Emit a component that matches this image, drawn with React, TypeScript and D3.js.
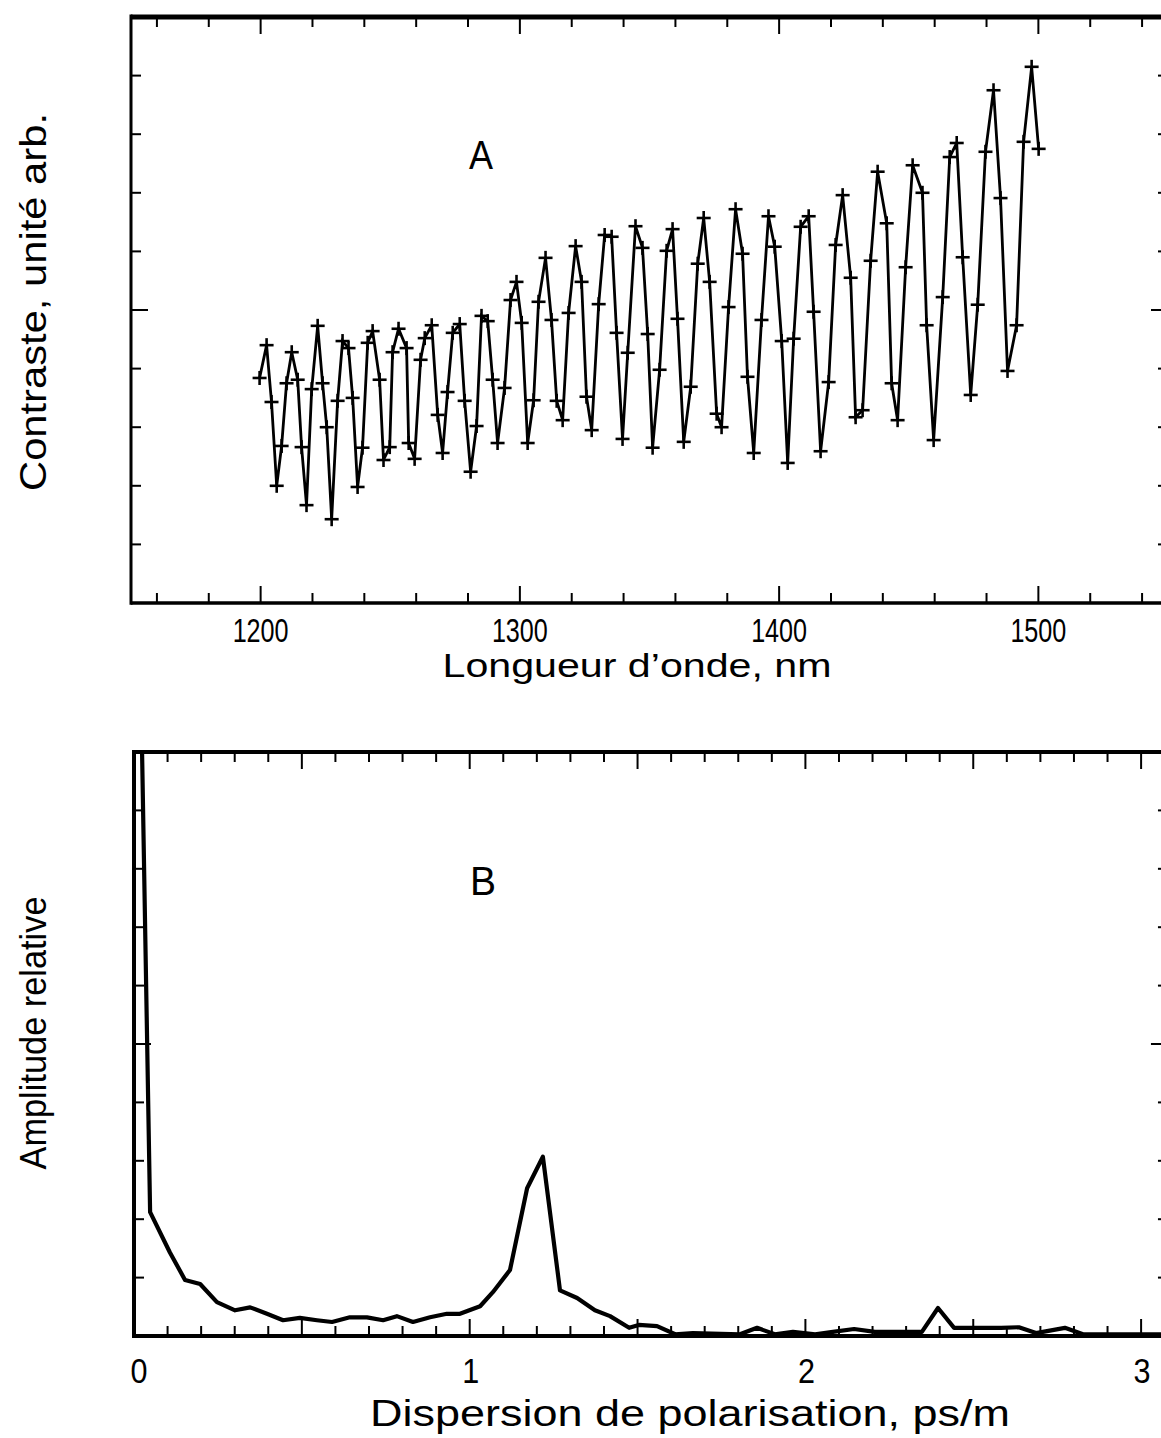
import React from "react";
import * as d3 from "d3";

// ---------- Panel A data (wavelength nm, contrast arb. units) ----------
const WAVELENGTH = [
  1199.6, 1202.3, 1204.2, 1206.2, 1208.1, 1210.0, 1212.0, 1214.3, 1215.8, 1217.7,
  1219.7, 1222.0, 1223.9, 1225.5, 1227.4, 1229.7, 1231.6, 1233.9, 1235.5, 1237.4,
  1239.3, 1241.3, 1243.2, 1245.9, 1247.4, 1249.8, 1250.9, 1253.2, 1256.3, 1257.1,
  1259.4, 1261.7, 1263.3, 1266.0, 1268.3, 1270.2, 1272.1, 1274.1, 1276.8, 1278.7,
  1281.0, 1283.3, 1285.2, 1287.6, 1289.5, 1291.4, 1294.1, 1296.4, 1298.7, 1300.7,
  1303.0, 1305.3, 1307.2, 1309.9, 1312.2, 1314.2, 1316.5, 1318.8, 1321.5, 1323.8,
  1325.7, 1327.7, 1330.4, 1332.7, 1335.4, 1337.3, 1339.6, 1341.6, 1344.6, 1347.3,
  1349.3, 1351.2, 1353.9, 1356.6, 1358.9, 1360.8, 1363.2, 1365.9, 1368.6, 1370.9,
  1373.2, 1375.9, 1377.8, 1380.5, 1383.2, 1385.9, 1387.8, 1390.2, 1393.2, 1395.9,
  1398.3, 1401.0, 1403.3, 1405.6, 1408.3, 1411.4, 1413.3, 1416.0, 1419.1, 1421.8,
  1424.5, 1427.6, 1429.5, 1432.2, 1435.3, 1438.0, 1441.5, 1443.4, 1445.7, 1448.8,
  1451.5, 1455.3, 1456.9, 1459.6, 1463.1, 1465.8, 1468.5, 1470.8, 1473.9, 1476.6,
  1479.6, 1482.7, 1485.4, 1488.1, 1491.6, 1494.3, 1497.4, 1500.1,
];
const CONTRAST = [
  3.84, 4.40, 3.43, 2.00, 2.68, 3.75, 4.28, 3.81, 2.66, 1.67,
  3.65, 4.73, 3.75, 3.00, 1.43, 3.45, 4.47, 4.35, 3.50, 1.98,
  2.65, 4.44, 4.64, 3.81, 2.44, 2.66, 4.28, 4.68, 4.35, 2.73,
  2.46, 4.15, 4.52, 4.74, 3.21, 2.56, 3.60, 4.61, 4.76, 3.45,
  2.24, 3.02, 4.90, 4.81, 3.81, 2.73, 3.67, 5.17, 5.48, 4.78,
  2.73, 3.46, 5.14, 5.89, 4.83, 3.45, 3.12, 4.95, 6.09, 5.48,
  3.52, 2.95, 5.10, 6.28, 6.25, 4.61, 2.80, 4.27, 6.43, 6.06,
  4.59, 2.65, 3.98, 6.01, 6.38, 4.85, 2.75, 3.69, 5.79, 6.57,
  5.48, 3.23, 3.00, 5.05, 6.72, 5.96, 3.86, 2.56, 4.83, 6.60,
  6.08, 4.47, 2.39, 4.51, 6.42, 6.60, 4.97, 2.59, 3.77, 6.11,
  6.96, 5.55, 3.17, 3.29, 5.84, 7.36, 6.48, 3.75, 3.12, 5.73,
  7.47, 7.00, 4.74, 2.78, 5.22, 7.61, 7.85, 5.90, 3.55, 5.09,
  7.70, 8.75, 6.91, 3.96, 4.74, 7.87, 9.15, 7.75,
];

// ---------- Panel B data (PMD ps/m, relative amplitude) ----------
const DISPERSION = [
  0.0, 0.048, 0.107, 0.152, 0.197, 0.247, 0.301, 0.346, 0.396, 0.444,
  0.494, 0.545, 0.590, 0.643, 0.694, 0.742, 0.783, 0.831, 0.882, 0.932,
  0.971, 1.031, 1.069, 1.120, 1.171, 1.218, 1.269, 1.320, 1.373, 1.418,
  1.475, 1.504, 1.558, 1.612, 1.665, 1.805, 1.856, 1.909, 1.963, 2.029,
  2.082, 2.145, 2.207, 2.347, 2.395, 2.443, 2.508, 2.583, 2.636, 2.687,
  2.773, 2.827, 2.901, 3.06,
];
const AMPLITUDE = [
  17.9, 2.12, 1.43, 0.96, 0.89, 0.58, 0.44, 0.49, 0.38, 0.27,
  0.31, 0.27, 0.24, 0.32, 0.32, 0.27, 0.34, 0.24, 0.32, 0.38,
  0.38, 0.51, 0.75, 1.13, 2.53, 3.07, 0.78, 0.65, 0.44, 0.34,
  0.14, 0.19, 0.17, 0.03, 0.05, 0.03, 0.14, 0.03, 0.07, 0.03,
  0.07, 0.12, 0.07, 0.07, 0.48, 0.14, 0.14, 0.14, 0.15, 0.05,
  0.14, 0.03, 0.03, 0.03,
];

const TICKS_A_LABELS = [1200, 1300, 1400, 1500];
const TICKS_B_LABELS = [0, 1, 2, 3];

const FONT = "'Liberation Sans', Arial, sans-serif";

type Tick = { v: number; major: boolean };

function Frame({
  x, y, xTicks, yTicks, thick,
}: {
  x: d3.ScaleLinear<number, number>;
  y: d3.ScaleLinear<number, number>;
  xTicks: Tick[];
  yTicks: Tick[];
  thick: { left: number; top: number; bottom: number; right: number };
}) {
  const [x0, x1] = x.range();
  const [y0, y1] = y.range(); // y0 bottom, y1 top
  const MAJ = 17, MIN = 10;
  return (
    <g stroke="#000" fill="none">
      <line x1={x0} x2={x1} y1={y1} y2={y1} strokeWidth={thick.top} />
      <line x1={x0} x2={x1} y1={y0} y2={y0} strokeWidth={thick.bottom} />
      <line x1={x0} x2={x0} y1={y1 - thick.top / 2} y2={y0 + thick.bottom / 2} strokeWidth={thick.left} />
      <line x1={x1} x2={x1} y1={y1} y2={y0} strokeWidth={thick.right} />
      {xTicks.map((t, i) => (
        <g key={"xt" + i} strokeWidth={2}>
          <line x1={x(t.v)} x2={x(t.v)} y1={y0} y2={y0 - (t.major ? MAJ : MIN)} />
          <line x1={x(t.v)} x2={x(t.v)} y1={y1} y2={y1 + (t.major ? MAJ : MIN)} />
        </g>
      ))}
      {yTicks.map((t, i) => (
        <g key={"yt" + i} strokeWidth={2}>
          <line x1={x0} x2={x0 + (t.major ? MAJ : MIN)} y1={y(t.v)} y2={y(t.v)} />
          <line x1={x1} x2={x1 - (t.major ? MAJ : MIN)} y1={y(t.v)} y2={y(t.v)} />
        </g>
      ))}
    </g>
  );
}

export default function App() {
  // Panel A
  const xA = d3.scaleLinear().domain([1150, 1550]).range([131, 1168]);
  const yA = d3.scaleLinear().domain([0, 10]).range([603, 17]);
  const xTicksA: Tick[] = d3.range(1160, 1550, 20).map((v) => ({ v, major: v % 100 === 0 }));
  const yTicksA: Tick[] = d3.range(1, 10).map((v) => ({ v, major: v === 5 }));
  const ptsA = WAVELENGTH.map((w, i) => [w, CONTRAST[i]] as [number, number]);
  const lineA = d3.line<[number, number]>().x((d) => xA(d[0])).y((d) => yA(d[1]))(ptsA) || "";

  // Panel B
  const xB = d3.scaleLinear().domain([0, 3.08]).range([134, 134 + 3.08 * 335.7]);
  const yB = d3.scaleLinear().domain([0, 10]).range([1336, 752]);
  const xTicksB: Tick[] = d3.range(1, 31).map((k) => ({ v: k / 10, major: k % 5 === 0 }));
  const yTicksB: Tick[] = d3.range(1, 10).map((v) => ({ v, major: v === 5 }));
  const ptsB = DISPERSION.map((d, i) => [d, AMPLITUDE[i]] as [number, number]);
  const lineB = d3.line<[number, number]>().x((d) => xB(d[0])).y((d) => yB(d[1]))(ptsB) || "";

  return (
    <svg
      width={1161}
      height={1438}
      style={{ position: "absolute", left: 0, top: 0, background: "#fff" }}
      fontFamily={FONT}
    >
      <rect width={1161} height={1438} fill="#fff" />
      <defs>
        <clipPath id="clipA">
          <rect x={131} y={17} width={1168 - 131} height={603 - 17} />
        </clipPath>
        <clipPath id="clipB">
          <rect x={134} y={752} width={1100} height={1336 - 752} />
        </clipPath>
      </defs>

      {/* Panel A */}
      <g clipPath="url(#clipA)">
        <path d={lineA} fill="none" stroke="#000" strokeWidth={2.8} strokeLinejoin="miter" />
        {ptsA.map((p, i) => {
          const cx = xA(p[0]);
          const cy = yA(p[1]);
          return (
            <g key={i} stroke="#000" strokeWidth={2.6}>
              <line x1={cx - 7} x2={cx + 7} y1={cy} y2={cy} />
              <line x1={cx} x2={cx} y1={cy - 7} y2={cy + 7} />
            </g>
          );
        })}
      </g>
      <Frame x={xA} y={yA} xTicks={xTicksA} yTicks={yTicksA} thick={{ left: 3, top: 5, bottom: 3.5, right: 3 }} />
      {TICKS_A_LABELS.map((v) => (
        <text
          key={v}
          x={xA(v)}
          y={642}
          textAnchor="middle"
          fontSize={34}
          textLength={56}
          lengthAdjust="spacingAndGlyphs"
        >
          {v}
        </text>
      ))}
      <text x={637} y={677} textAnchor="middle" fontSize={34} textLength={389} lengthAdjust="spacingAndGlyphs">
        Longueur d’onde, nm
      </text>
      <text
        transform={`translate(46,302) rotate(-90)`}
        textAnchor="middle"
        fontSize={36}
        textLength={378}
        lengthAdjust="spacingAndGlyphs"
      >
        Contraste, unité arb.
      </text>
      <text x={481} y={169} textAnchor="middle" fontSize={40} textLength={24} lengthAdjust="spacingAndGlyphs">
        A
      </text>

      {/* Panel B */}
      <g clipPath="url(#clipB)">
        <path d={lineB} fill="none" stroke="#000" strokeWidth={4.2} strokeLinejoin="round" />
      </g>
      <Frame x={xB} y={yB} xTicks={xTicksB} yTicks={yTicksB} thick={{ left: 4, top: 4, bottom: 4, right: 3 }} />
      {TICKS_B_LABELS.map((v) => (
        <text
          key={v}
          x={xB(v) + (v === 0 ? 5 : 1)}
          y={1383}
          textAnchor="middle"
          fontSize={35}
          textLength={17}
          lengthAdjust="spacingAndGlyphs"
        >
          {v}
        </text>
      ))}
      <text x={690} y={1426} textAnchor="middle" fontSize={36} textLength={640} lengthAdjust="spacingAndGlyphs">
        Dispersion de polarisation, ps/m
      </text>
      <text
        transform={`translate(46,1033) rotate(-90)`}
        textAnchor="middle"
        fontSize={36}
        textLength={273}
        lengthAdjust="spacingAndGlyphs"
      >
        Amplitude relative
      </text>
      <text x={483} y={895} textAnchor="middle" fontSize={40} textLength={26} lengthAdjust="spacingAndGlyphs">
        B
      </text>
    </svg>
  );
}
